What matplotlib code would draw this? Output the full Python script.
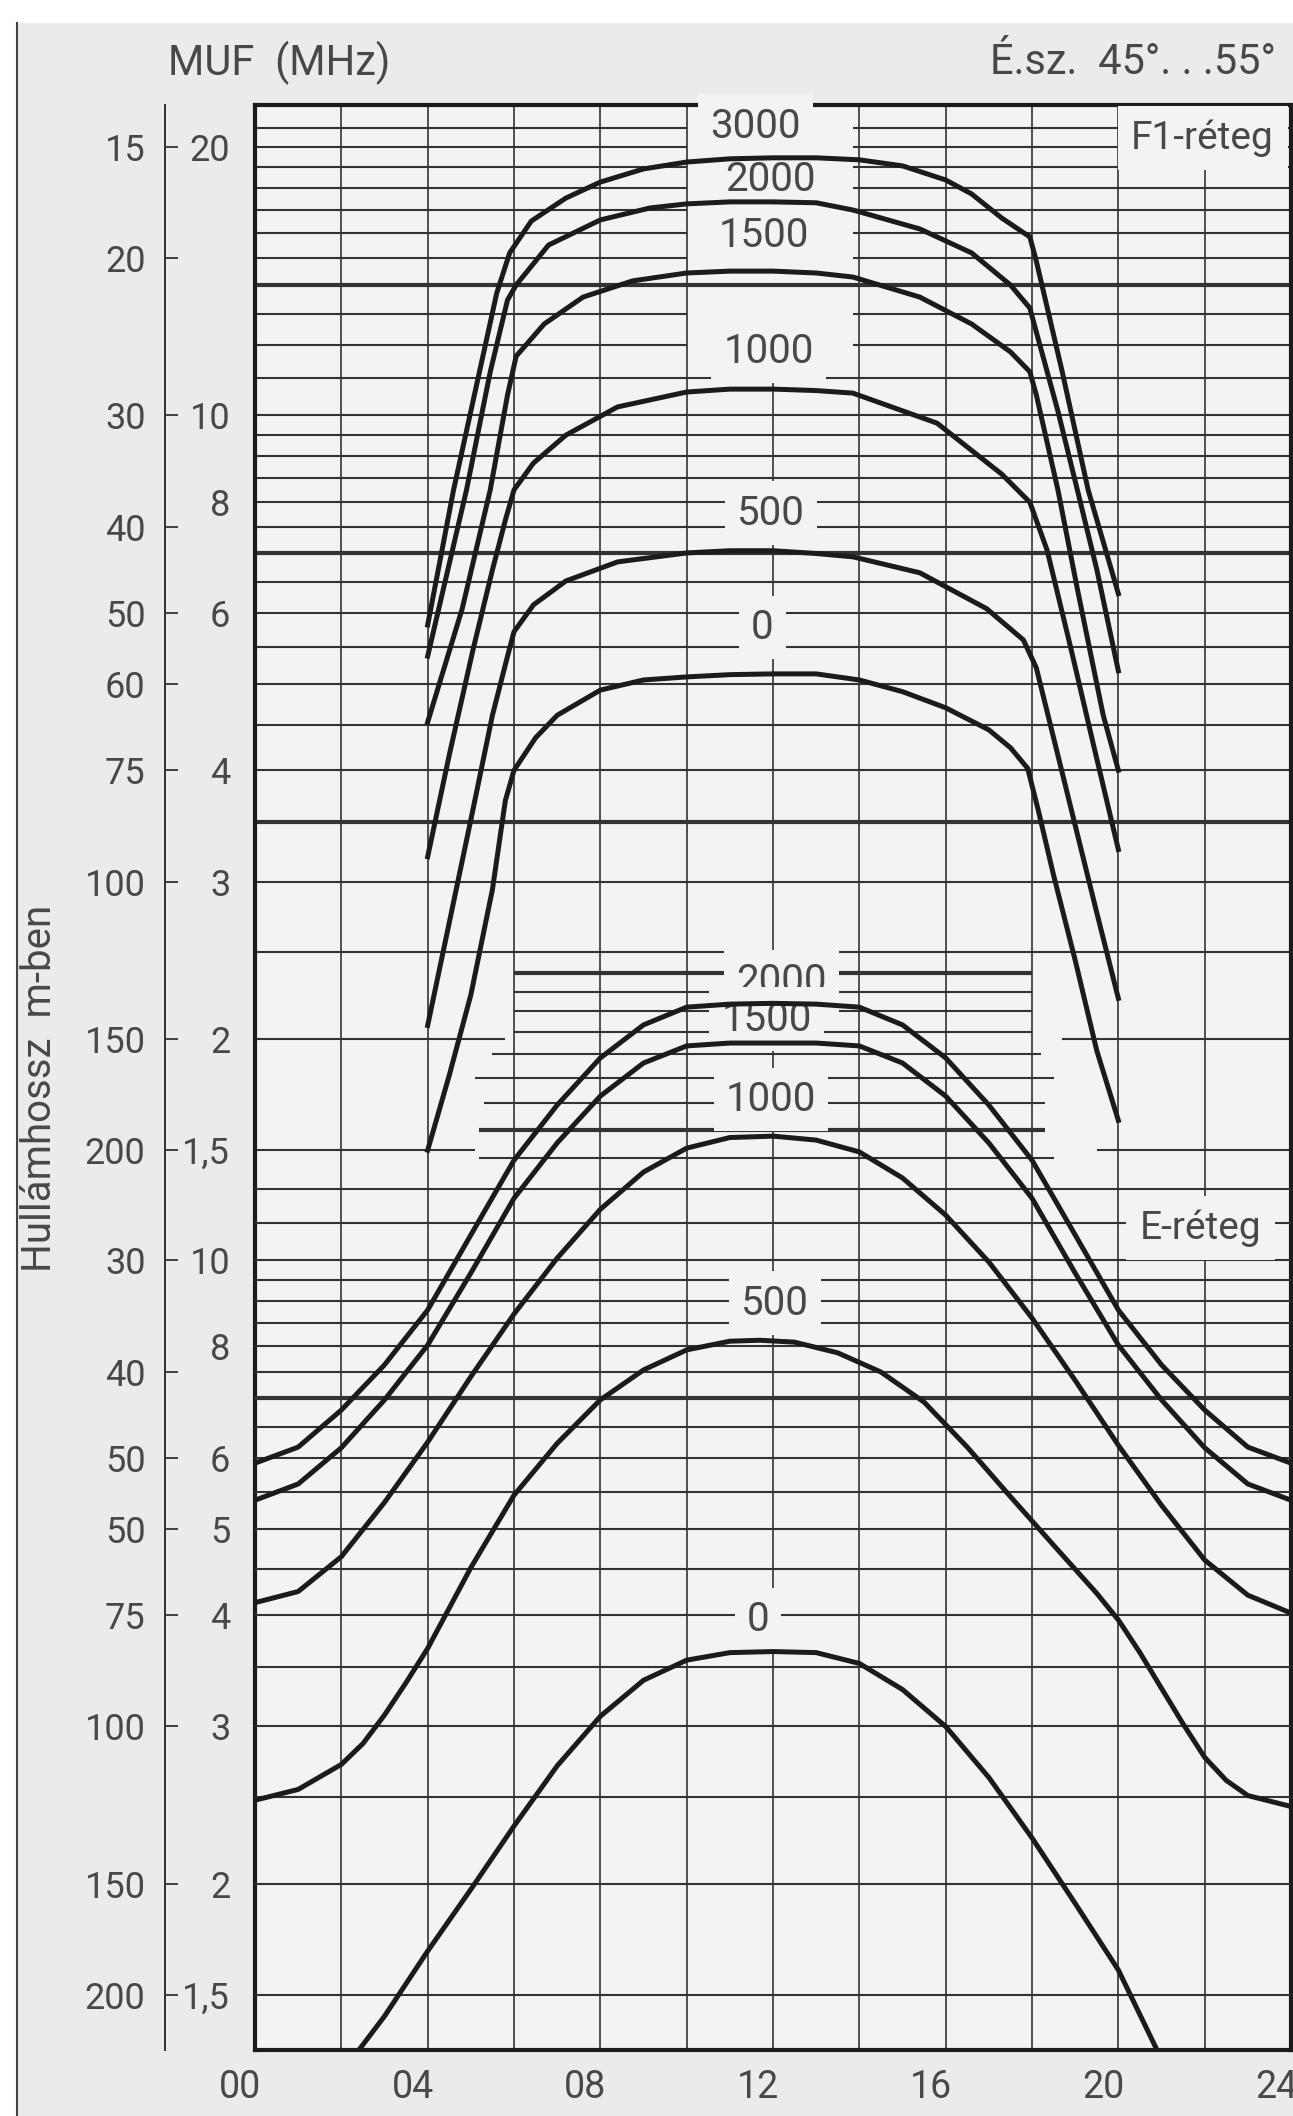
import matplotlib
matplotlib.use('Agg')
import matplotlib.pyplot as plt
from matplotlib import ticker
from matplotlib.patches import Rectangle
from matplotlib.lines import Line2D
from matplotlib.transforms import ScaledTranslation

plt.rcParams['font.family'] = ['Roboto', 'DejaVu Sans']

# ---------------- data ----------------
# F1 layer: MUF (MHz) against local time (h), one curve per hop distance (km)
f1_h_3000 = [4, 4.6, 5.2, 5.6, 5.9, 6.4, 7.2, 8, 9, 10, 11, 12, 13, 14, 15, 16, 16.6, 17.3, 17.95, 18.1, 18.7, 19.3, 20]
f1_f_3000 = [5.82, 8.25, 11.19, 13.71, 15.21, 16.51, 17.52, 18.26, 18.89, 19.23, 19.39, 19.44, 19.44, 19.34, 19.04, 18.36, 17.71, 16.64, 15.85, 14.89, 11.19, 8.25, 6.31]
f1_h_2000 = [4, 4.9, 5.45, 5.85, 6.05, 6.8, 8, 9.15, 10, 11, 12, 13, 13.85, 15.4, 16.6, 17.5, 17.95, 18.1, 18.6, 19.05, 19.5, 20]
f1_f_2000 = [5.37, 8.25, 11.19, 13.47, 14.0, 15.52, 16.56, 17.08, 17.26, 17.35, 17.35, 17.31, 16.99, 16.18, 15.21, 14.0, 13.19, 12.40, 10.11, 8.25, 6.72, 5.17]
f1_h_1500 = [4, 4.8, 5.45, 5.85, 6.05, 6.7, 7.6, 8.75, 10, 11, 12, 13, 13.85, 15.4, 16.6, 17.5, 17.95, 18.1, 18.6, 19.05, 19.65, 20]
f1_f_1500 = [4.53, 6.07, 8.25, 10.54, 11.65, 12.66, 13.57, 14.15, 14.44, 14.51, 14.51, 14.44, 14.29, 13.57, 12.66, 11.78, 11.19, 10.54, 8.25, 6.39, 4.61, 4.00]
f1_h_1000 = [4, 4.5, 5.05, 5.5, 5.8, 6, 6.45, 7.2, 8.4, 10, 11, 12, 13, 13.85, 15.8, 17.3, 17.95, 18.35, 18.9, 19.45, 20]
f1_f_1000 = [3.20, 4.16, 5.46, 6.71, 7.63, 8.25, 8.84, 9.50, 10.22, 10.62, 10.70, 10.70, 10.66, 10.59, 9.80, 8.59, 7.99, 7.06, 5.48, 4.22, 3.26]
f1_h_500 = [4, 5, 5.5, 5.85, 6, 6.45, 7.2, 8.4, 10, 11, 12, 13, 13.85, 15.4, 16.95, 17.8, 18.1, 18.5, 19, 19.5, 20]
f1_f_500 = [2.07, 3.52, 4.61, 5.37, 5.72, 6.13, 6.52, 6.85, 7.01, 7.05, 7.05, 7.0, 6.94, 6.66, 6.07, 5.60, 5.21, 4.35, 3.47, 2.77, 2.22]
f1_h_0 = [4, 4.5, 5, 5.5, 5.8, 6, 6.5, 7, 8, 9, 10, 11, 12, 13, 14, 15, 16, 17, 17.5, 17.9, 18.15, 18.5, 19, 19.5, 20]
f1_f_0 = [1.50, 1.82, 2.24, 2.94, 3.70, 4.00, 4.35, 4.61, 4.92, 5.05, 5.09, 5.12, 5.13, 5.13, 5.05, 4.90, 4.70, 4.44, 4.24, 4.02, 3.60, 3.05, 2.45, 1.94, 1.62]

# E layer, read hour by hour
e_h = [0, 1, 2, 3, 4, 5, 6, 7, 8, 9, 10, 11, 12, 13, 14, 15, 16, 17, 18, 19, 20, 21, 22, 23, 24]
e_f_2000 = [5.92, 6.17, 6.79, 7.63, 8.79, 10.67, 12.94, 14.92, 16.85, 18.35, 19.21, 19.36, 19.40, 19.36, 19.21, 18.35, 16.85, 14.92, 12.94, 10.67, 8.79, 7.63, 6.79, 6.17, 5.92]
e_f_1500 = [5.38, 5.61, 6.16, 6.97, 8.03, 9.67, 11.73, 13.53, 15.27, 16.63, 17.38, 17.51, 17.51, 17.51, 17.38, 16.63, 15.27, 13.53, 11.73, 9.67, 8.03, 6.97, 6.16, 5.61, 5.38]
e_f_1000 = [4.13, 4.25, 4.65, 5.35, 6.25, 7.40, 8.70, 10.05, 11.40, 12.55, 13.35, 13.72, 13.77, 13.63, 13.22, 12.36, 11.23, 9.95, 8.61, 7.33, 6.20, 5.31, 4.61, 4.21, 4.02]
e_h_500 = [0, 1, 2, 2.5, 3, 3.5, 4, 5, 6, 7, 8, 9, 10, 11, 11.7, 12.5, 13.5, 14.5, 15.5, 16.5, 17.5, 18.5, 19.5, 20, 20.5, 21, 21.5, 22, 22.5, 23, 24]
e_f_500 = [2.48, 2.55, 2.72, 2.87, 3.09, 3.36, 3.67, 4.52, 5.45, 6.23, 6.97, 7.53, 7.93, 8.11, 8.13, 8.09, 7.87, 7.49, 6.93, 6.17, 5.43, 4.79, 4.23, 3.95, 3.63, 3.31, 3.02, 2.77, 2.61, 2.51, 2.44]
e_h_0 = [2.4, 3, 4, 5, 6, 7, 8, 9, 10, 11, 12, 13, 14, 15, 16, 17, 18, 19, 20, 20.9]
e_f_0 = [1.30, 1.42, 1.68, 1.97, 2.32, 2.71, 3.08, 3.38, 3.56, 3.63, 3.64, 3.63, 3.53, 3.30, 3.00, 2.63, 2.25, 1.90, 1.60, 1.30]

# grid of the nomogram (MHz); bold lines are the amateur bands
f1_grid = [21, 20, 19, 18, 17, 16, 15, 14, 13, 12, 11, 10, 9.5, 9, 8.5, 8, 7.5, 7, 6.5, 6, 5.5, 5, 4.5, 4, 3.5, 3, 2.5]
f1_bold = [14, 7, 3.5]
f1_label_gap = [21, 20, 19, 18, 17, 16, 15, 13, 12]   # left open between 10 h and 14 h for the labels
f1_split = [2, 1.5]
f1_split_gap = [(5.8, 18.7), (5.1, 19.5)]
e_grid = [12, 11, 10, 9.5, 9, 8.5, 8, 7.5, 7, 6.5, 6, 5.5, 5, 4.5, 4, 3.5, 3, 2.5, 2, 1.5]
e_bold = [21, 14, 7]
e_short = [21, 20, 19, 18, 17, 16, 15, 14, 13]
e_short_from = [6.0, 6.0, 6.0, 6.0, 5.5, 5.1, 5.3, 5.2, 5.2]
e_short_to = [18.0, 18.0, 18.0, 18.0, 18.2, 18.5, 18.3, 18.3, 18.5]
hour_grid = [2, 4, 6, 8, 10, 14, 16, 18, 20, 22]
noon_line_top = 11.0   # MHz (F1 scale) where the 12 h line stops under the labels

# scales on the left: MHz and wavelength (m)
f1_mhz_ticks = [20, 10, 8, 6, 4, 3, 2, 1.5]
f1_mhz_labels = ['20', '10', '8', '6', '4', '3', '2', '1,5']
f1_wave = [15, 20, 30, 40, 50, 60, 75, 100, 150, 200]
f1_wave_labels = ['15', '20', '30', '40', '50', '60', '75', '100', '150', '200']
e_mhz_ticks = [10, 8, 6, 5, 4, 3, 2, 1.5]
e_mhz_labels = ['10', '8', '6', '5', '4', '3', '2', '1,5']
e_wave = [30, 40, 50, 60, 75, 100, 150, 200]
e_wave_labels = ['30', '40', '50', '50', '75', '100', '150', '200']
hour_ticks = [0, 4, 8, 12, 16, 20, 24]
hour_labels = ['00', '04', '08', '12', '16', '20', '24']

ink = '#1b1b1b'
grid_c = '#333333'
txt_c = '#484848'
paper = '#f3f3f3'

fig = plt.figure(figsize=(12.93, 21.16), dpi=100, facecolor='white')
# scanned page
fig.patches.append(Rectangle((17 / 1293, 0), 1, 1 - 23 / 2116, transform=fig.transFigure,
                             facecolor='#ebebeb', edgecolor='none', zorder=-10))
fig.add_artist(Line2D([17 / 1293, 17 / 1293], [0, 1 - 23 / 2116], color='#444444', lw=1.5))

rect = [0.19722, 0.031191, 0.80124, 0.919187]
ax = fig.add_axes(rect, facecolor=paper)
ax.set_yscale('log')
ax.set_xlim(0, 24)
ax.set_ylim(0.147, 22.28)

ax_e = fig.add_axes(rect, facecolor='none')
ax_e.set_yscale('log')
ax_e.set_xlim(0, 24)
ax_e.set_ylim(1.3014, 197.2)
for s in ax_e.spines.values():
    s.set_visible(False)
ax_e.set_xticks([])
ax_e.set_yticks([])
ax_e.yaxis.set_minor_locator(ticker.NullLocator())

# grid lines
for h in hour_grid:
    ax.axvline(h, color=grid_c, lw=1.2, zorder=1)
ax.vlines(12, 0.147, noon_line_top, color=grid_c, lw=1.2, zorder=1)
for f in f1_grid:
    lw = 3.0 if f in f1_bold else 1.5
    if f in f1_label_gap:
        ax.hlines(f, 0, 10, color=grid_c, lw=lw, zorder=1)
        ax.hlines(f, 13.85, 24, color=grid_c, lw=lw, zorder=1)
    else:
        ax.axhline(f, color=grid_c, lw=lw, zorder=1)
for f, (g0, g1) in zip(f1_split, f1_split_gap):
    ax.hlines(f, 0, g0, color=grid_c, lw=1.5, zorder=1)
    ax.hlines(f, g1, 24, color=grid_c, lw=1.5, zorder=1)
for f in e_grid:
    ax_e.axhline(f, color=grid_c, lw=3.0 if f in e_bold else 1.5, zorder=1)
for f, x0, x1 in zip(e_short, e_short_from, e_short_to):
    ax_e.hlines(f, x0, x1, color=grid_c, lw=3.0 if f in e_bold else 1.5, zorder=1)

# curves
for hh, ff in [(f1_h_3000, f1_f_3000), (f1_h_2000, f1_f_2000), (f1_h_1500, f1_f_1500),
               (f1_h_1000, f1_f_1000), (f1_h_500, f1_f_500), (f1_h_0, f1_f_0)]:
    ax.plot(hh, ff, color=ink, lw=3.6, zorder=4, solid_joinstyle='round')
for hh, ff in [(e_h, e_f_2000), (e_h, e_f_1500), (e_h, e_f_1000),
               (e_h_500, e_f_500), (e_h_0, e_f_0)]:
    ax_e.plot(hh, ff, color=ink, lw=3.6, zorder=4, solid_joinstyle='round')

# curve labels (km) with blank paper behind
box = dict(facecolor=paper, edgecolor='none', boxstyle='square,pad=0.3')
for lab, x, y in zip(['3000', '2000', '1500', '1000', '500', '0'],
                     [11.6, 11.95, 11.8, 11.9, 11.95, 11.75],
                     [21.1, 18.36, 15.9, 11.8, 7.77, 5.78]):
    ax.text(x, y, lab, ha='center', va='center', fontsize=29, color=txt_c, bbox=box, zorder=3)
for lab, x, y in zip(['2000', '1500', '1000', '500', '0'],
                     [12.2, 11.85, 11.95, 12.05, 11.65],
                     [20.5, 18.63, 15.15, 8.95, 3.95]):
    ax_e.text(x, y, lab, ha='center', va='center', fontsize=29, color=txt_c, bbox=box, zorder=3)
ax.text(21.95, 20.46, 'F1-réteg', ha='center', va='center', fontsize=28, color=txt_c,
        bbox=dict(facecolor=paper, edgecolor='none', boxstyle='square,pad=0.35'), zorder=3)
ax_e.text(21.9, 10.86, 'E-réteg', ha='center', va='center', fontsize=28, color=txt_c,
          bbox=dict(facecolor=paper, edgecolor='none', boxstyle='square,pad=0.35'), zorder=3)

# frame
for side, s in ax.spines.items():
    s.set_linewidth(3.0)
    s.set_color(ink)
ax.set_yticks([])
ax.yaxis.set_minor_locator(ticker.NullLocator())
ax.set_xticks(hour_ticks, hour_labels)
ax.tick_params(axis='x', length=0, pad=14, labelsize=27, labelcolor=txt_c)
shift = ScaledTranslation(-0.15, 0, fig.dpi_scale_trans)
for lbl in ax.get_xticklabels():
    lbl.set_transform(lbl.get_transform() + shift)

# left scales: wavelength (outside) and MHz (inside) on one line
scale_x = -0.0869
for parent, mhz, mhz_lab, wave, wave_lab in [(ax, f1_mhz_ticks, f1_mhz_labels, f1_wave, f1_wave_labels),
                                             (ax_e, e_mhz_ticks, e_mhz_labels, e_wave, e_wave_labels)]:
    wl = parent.secondary_yaxis(scale_x)
    wl.set_ticks([300.0 / w for w in wave], wave_lab)
    wl.yaxis.set_minor_locator(ticker.NullLocator())
    wl.tick_params(direction='in', length=9, width=1.3, color='#333333', pad=14,
                   labelsize=26, labelcolor=txt_c)
    wl.spines['left'].set_linewidth(1.3)
    wl.spines['left'].set_color('#333333')
    mz = parent.secondary_yaxis(scale_x)
    mz.set_ticks(mhz, mhz_lab)
    mz.yaxis.set_minor_locator(ticker.NullLocator())
    mz.tick_params(length=0, pad=-47, labelsize=26, labelcolor=txt_c)
    mz.spines['left'].set_visible(False)

fig.text(168 / 1293, 1 - 63 / 2116, 'MUF  (MHz)', ha='left', va='center', fontsize=30, color=txt_c)
fig.text(1276 / 1293, 1 - 63 / 2116, 'É.sz.  45°. . .55°', ha='right', va='center', fontsize=30, color=txt_c)
fig.text(40 / 1293, 1 - 1088 / 2116, 'Hullámhossz  m-ben', rotation=90, ha='center', va='center',
         fontsize=29, color=txt_c)

plt.savefig('out.png', dpi=100)
